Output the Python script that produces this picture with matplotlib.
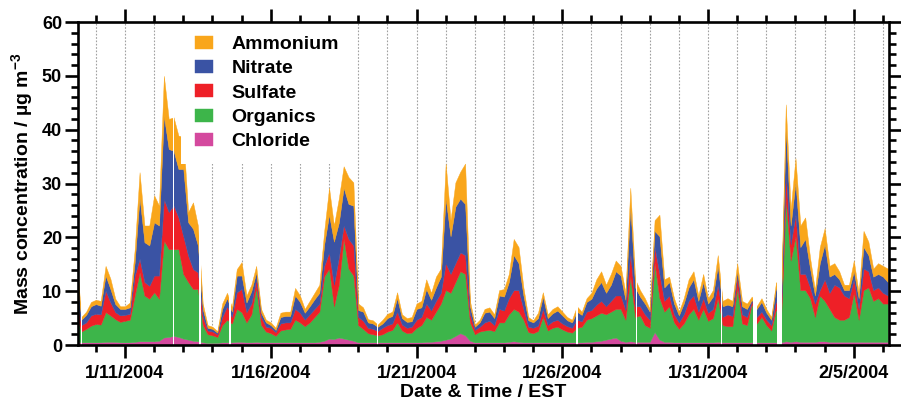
import numpy as np
import pandas as pd
import matplotlib
matplotlib.use("Agg")
import matplotlib.pyplot as plt
import matplotlib.dates as mdates
from matplotlib.ticker import FixedLocator

plt.rcParams['font.family'] = ['Liberation Sans', 'DejaVu Sans']
plt.rcParams['font.weight'] = 'bold'
plt.rcParams['mathtext.fontset'] = 'custom'
plt.rcParams['mathtext.rm'] = 'Liberation Sans:bold'
plt.rcParams['mathtext.default'] = 'rm'

# 4-hourly data, 1/9/2004 08:00 .. 2/6/2004 04:00 (ug m-3)
start, stop = "2004-01-09 08:00", "2004-02-06 04:00"

ammonium = [
    2.5, 0.5, 0.6, 0.8,                # 1/9
    0.8, 0.9, 1.8, 1.9, 1.0, 0.5,      # 1/10
    0.5, 0.9, 2.4, 4.7, 3.1, 3.7,      # 1/11
    5.0, 3.7, 7.4, 5.6, 6.2, 6.2,      # 1/12
    6.0, 1.9, 4.9, 3.7, 1.0, 0.5,      # 1/13
    0.4, 0.3, 1.0, 1.0, 0.8, 1.2,      # 1/14
    2.5, 1.3, 1.2, 1.2, 0.7, 0.5,      # 1/15
    0.5, 0.4, 0.8, 0.8, 0.8, 1.4,      # 1/16
    1.2, 0.7, 1.0, 1.2, 1.5, 2.5,      # 1/17
    5.0, 3.0, 4.5, 4.0, 5.0, 4.3,      # 1/18
    1.2, 0.8, 0.6, 0.6, 0.4, 0.7,      # 1/19
    0.8, 0.8, 1.1, 0.7, 0.7, 0.8,      # 1/20
    1.0, 1.2, 1.8, 1.3, 2.0, 1.5,      # 1/21
    6.5, 3.0, 4.5, 5.0, 7.5, 1.0,      # 1/22
    0.4, 0.5, 0.7, 0.8, 0.7, 1.0,      # 1/23
    1.4, 1.5, 3.0, 3.0, 1.5, 0.6,      # 1/24
    0.4, 1.0, 0.8, 0.7, 0.8, 0.8,      # 1/25
    0.7, 0.6, 0.5, 1.0, 0.6, 0.7,      # 1/26
    1.1, 1.7, 2.0, 1.5, 2.0, 2.0,      # 1/27
    1.8, 1.3, 3.5, 1.5, 1.2, 1.0,      # 1/28
    0.5, 2.0, 4.0, 1.5, 1.0, 1.0,      # 1/29
    0.7, 1.0, 1.5, 1.5, 1.0, 1.5,      # 1/30
    1.0, 1.2, 2.0, 1.0, 1.2, 1.0,      # 1/31
    1.5, 1.0, 1.0, 0.6, 0.5, 0.7,      # 2/1
    0.7, 0.5, 1.0, 1.0, 4.5, 3.0,      # 2/2
    4.5, 4.0, 4.0, 2.0, 1.0, 3.0,      # 2/3
    3.0, 2.0, 2.0, 1.5, 1.0, 1.0,      # 2/4
    2.0, 1.0, 3.0, 2.5, 1.5, 2.0,      # 2/5
    2.0, 2.5,                          # 2/6
]
nitrate = [
    5.5, 1.0, 1.4, 1.7,
    1.8, 1.6, 2.8, 2.5, 1.5, 1.2,
    1.1, 1.2, 2.5, 11.4, 7.4, 7.5,
    9.9, 9.3, 15.5, 11.7, 10.2, 9.0,
    12.5, 6.2, 7.5, 5.0, 1.5, 0.5,
    0.5, 0.3, 1.5, 1.5, 1.0, 3.1,
    2.5, 1.8, 2.3, 1.3, 0.8, 0.8,
    0.5, 0.4, 1.2, 1.2, 1.2, 2.5,
    2.0, 1.3, 1.5, 1.8, 2.0, 4.0,
    7.0, 8.0, 6.5, 7.0, 6.5, 7.4,
    1.3, 1.7, 1.0, 1.0, 0.8, 0.8,
    1.3, 1.4, 2.5, 1.2, 1.1, 1.0,
    2.0, 1.8, 2.7, 2.0, 2.5, 3.0,
    12.0, 7.0, 10.5, 10.0, 9.5, 1.5,
    0.6, 0.8, 1.8, 1.7, 1.3, 2.5,
    2.6, 3.0, 6.5, 5.0, 2.5, 1.2,
    1.0, 1.4, 2.3, 1.3, 1.5, 1.7,
    1.5, 1.1, 1.0, 1.5, 1.2, 1.8,
    2.1, 3.0, 3.5, 2.5, 3.0, 4.5,
    3.7, 1.9, 8.5, 3.5, 1.8, 2.0,
    1.5, 3.0, 7.0, 2.5, 2.5, 2.0,
    1.3, 2.0, 2.5, 3.0, 2.0, 3.0,
    1.7, 2.3, 3.5, 2.0, 1.8, 1.8,
    1.0, 1.5, 1.5, 0.2, 1.5, 1.8,
    1.3, 1.0, 2.5, 1.5, 8.5, 3.5,
    6.0, 5.0, 6.5, 3.5, 1.5, 5.0,
    6.5, 3.0, 2.0, 1.5, 1.0, 1.5,
    1.5, 2.0, 4.0, 3.0, 2.5, 2.5,
    3.0, 2.5,
]
sulfate = [
    3.1, 1.2, 1.2, 1.9,
    1.9, 1.9, 4.0, 2.4, 1.3, 1.2,
    1.1, 1.1, 3.7, 2.5, 2.5, 2.4,
    3.1, 4.3, 7.7, 6.9, 8.1, 5.9,
    7.0, 4.9, 3.7, 3.1, 1.5, 0.7,
    0.7, 0.5, 1.5, 2.5, 1.2, 3.1,
    4.3, 1.9, 2.0, 1.5, 1.5, 0.9,
    1.0, 0.7, 1.3, 1.3, 1.2, 2.0,
    1.8, 1.2, 1.5, 1.5, 1.5, 2.0,
    3.0, 4.0, 5.0, 2.5, 5.5, 5.6,
    1.5, 1.5, 1.0, 1.0, 0.8, 1.2,
    1.2, 1.2, 2.0, 1.1, 1.0, 1.1,
    1.5, 1.5, 2.5, 1.7, 2.0, 2.0,
    5.0, 3.5, 3.5, 3.5, 3.5, 1.5,
    0.8, 0.9, 1.5, 1.7, 1.1, 2.5,
    2.2, 3.0, 3.5, 4.0, 2.0, 1.0,
    1.0, 1.0, 1.5, 1.0, 1.2, 1.3,
    1.1, 1.0, 0.9, 1.5, 1.0, 1.5,
    1.5, 2.0, 2.2, 1.5, 2.0, 2.5,
    2.5, 1.8, 4.5, 2.0, 1.7, 2.0,
    1.5, 3.0, 4.5, 2.0, 2.0, 1.5,
    1.2, 1.7, 2.5, 2.5, 1.5, 2.0,
    1.5, 1.7, 2.5, 1.5, 2.2, 1.9,
    2.0, 1.7, 1.5, 0.5, 1.2, 1.0,
    1.0, 1.0, 1.5, 1.5, 4.5, 3.0,
    4.0, 3.0, 3.0, 2.0, 2.5, 1.0,
    4.0, 3.0, 6.0, 6.0, 4.5, 3.5,
    2.5, 2.0, 4.0, 3.0, 2.0, 2.0,
    2.0, 1.5,
]
organics = [
    4.8, 2.0, 2.5, 3.1,
    3.4, 3.3, 5.5, 4.9, 4.2, 3.8,
    4.0, 4.2, 8.6, 12.8, 8.5, 7.9,
    9.1, 7.8, 18.0, 16.3, 16.1, 16.3,
    12.0, 10.7, 9.6, 9.7, 3.2, 1.6,
    1.4, 1.1, 3.2, 4.2, 3.5, 6.1,
    5.5, 3.7, 5.2, 10.1, 3.2, 2.0,
    1.7, 1.2, 2.2, 2.4, 2.5, 4.2,
    3.7, 3.0, 3.7, 4.7, 5.6, 11.9,
    13.0, 6.1, 9.8, 18.5, 13.2, 12.1,
    3.2, 2.5, 1.7, 1.5, 1.3, 1.5,
    2.0, 2.3, 3.7, 2.2, 1.7, 1.8,
    2.7, 3.2, 4.6, 4.1, 5.5, 6.9,
    9.2, 8.5, 10.0, 11.5, 11.4, 3.4,
    1.5, 2.0, 2.2, 2.3, 2.1, 3.7,
    3.7, 5.1, 6.0, 5.6, 4.2, 1.9,
    1.7, 2.1, 4.7, 2.2, 2.7, 2.9,
    2.4, 2.0, 1.8, 2.7, 2.9, 4.1,
    4.4, 4.8, 5.2, 4.7, 5.0, 5.3,
    5.9, 4.1, 12.0, 4.6, 4.9, 3.1,
    2.6, 12.8, 7.7, 5.6, 6.6, 3.7,
    2.5, 3.5, 5.2, 6.2, 4.2, 6.2,
    4.0, 4.5, 8.1, 3.2, 3.0, 3.0,
    10.2, 3.5, 3.2, 7.2, 3.5, 4.7,
    3.2, 2.2, 6.2, 3.7, 26.5, 15.1,
    19.5, 9.6, 9.6, 8.1, 4.6, 8.5,
    7.5, 6.1, 4.6, 4.1, 4.1, 4.6,
    9.1, 4.1, 9.6, 10.1, 7.6, 8.1,
    7.1, 7.1,
]
chloride = [
    0.7, 0.5, 0.5, 0.5,
    0.5, 0.5, 0.6, 0.6, 0.6, 0.5,
    0.5, 0.5, 0.6, 0.7, 0.7, 0.7,
    0.7, 0.8, 1.4, 1.5, 1.7, 1.5,
    1.2, 1.0, 0.8, 0.7, 0.5, 0.4,
    0.4, 0.4, 0.5, 0.5, 0.5, 0.6,
    0.6, 0.5, 0.5, 0.6, 0.5, 0.5,
    0.5, 0.5, 0.5, 0.5, 0.5, 0.5,
    0.5, 0.5, 0.5, 0.5, 0.6, 0.8,
    1.2, 1.1, 1.4, 1.2, 1.0, 0.8,
    0.5, 0.5, 0.5, 0.5, 0.5, 0.5,
    0.5, 0.5, 0.5, 0.5, 0.5, 0.5,
    0.5, 0.5, 0.6, 0.6, 0.7, 0.8,
    1.0, 1.2, 1.7, 2.2, 1.8, 0.8,
    0.5, 0.5, 0.5, 0.5, 0.5, 0.5,
    0.5, 0.6, 0.7, 0.6, 0.5, 0.5,
    0.5, 0.5, 0.5, 0.5, 0.5, 0.5,
    0.5, 0.5, 0.5, 0.5, 0.5, 0.6,
    0.6, 0.7, 0.8, 1.0, 1.2, 1.4,
    0.8, 0.6, 0.7, 0.6, 0.6, 0.6,
    0.6, 2.4, 1.0, 0.6, 0.6, 0.5,
    0.5, 0.5, 0.5, 0.5, 0.5, 0.5,
    0.5, 0.5, 0.6, 0.5, 0.5, 0.5,
    0.5, 0.5, 0.5, 0.5, 0.5, 0.5,
    0.5, 0.5, 0.5, 0.5, 0.7, 0.6,
    0.7, 0.6, 0.6, 0.6, 0.6, 0.7,
    0.7, 0.6, 0.6, 0.6, 0.6, 0.6,
    0.6, 0.6, 0.6, 0.6, 0.6, 0.6,
    0.6, 0.6,
]

# missing-data periods (white gaps)
gaps = [
    ("2004-01-09 11:50", "2004-01-09 12:50"),
    ("2004-01-12 15:40", "2004-01-12 16:40"),
    ("2004-01-13 13:20", "2004-01-13 14:20"),
    ("2004-01-14 13:20", "2004-01-14 15:30"),
    ("2004-01-19 15:50", "2004-01-19 16:40"),
    ("2004-01-26 11:40", "2004-01-26 12:40"),
    ("2004-01-28 12:50", "2004-01-28 13:50"),
    ("2004-01-31 10:50", "2004-01-31 11:40"),
    ("2004-02-01 13:00", "2004-02-01 16:20"),
    ("2004-02-02 08:50", "2004-02-02 13:00"),
]

major_days = ["2004-01-11", "2004-01-16", "2004-01-21",
              "2004-01-26", "2004-01-31", "2004-02-05"]

names = ["Chloride", "Organics", "Sulfate", "Nitrate", "Ammonium"]
colors = ["#D4499E", "#3DB54A", "#EE2027", "#3A53A4", "#F9A61B"]

t = pd.date_range(start, stop, freq="4h")

fig = plt.figure(figsize=(9.01, 4.04), dpi=100)
ax = fig.add_axes([0.0866, 0.146, 0.9001, 0.7995])

polys = ax.stackplot(t, chloride, organics, sulfate, nitrate, ammonium,
                     colors=colors, labels=names, edgecolor="face", linewidth=0.3)

for g0, g1 in gaps:
    ax.axvspan(pd.Timestamp(g0), pd.Timestamp(g1), color="white", lw=0, zorder=1.5)

ax.set_xlim(pd.Timestamp("2004-01-09 09:20"), pd.Timestamp("2004-02-06 05:00"))
ax.set_ylim(0, 60)

ax.xaxis.set_major_locator(FixedLocator(mdates.date2num(pd.to_datetime(major_days))))
ax.xaxis.set_minor_locator(mdates.DayLocator())
ax.xaxis.set_major_formatter(plt.FuncFormatter(
    lambda v, p: "{d.month}/{d.day}/{d.year}".format(d=mdates.num2date(v))))
ax.yaxis.set_major_locator(plt.MultipleLocator(10))
ax.yaxis.set_minor_locator(plt.MultipleLocator(2))

ax.set_axisbelow(True)
ax.xaxis.grid(True, which="both", linestyle=(0, (1.5, 1.5)), color="#a0a0a0", lw=0.8)

for s in ax.spines.values():
    s.set_linewidth(1.9)
ax.tick_params(which="both", direction="out", top=True, right=True, width=1.9,
               labelsize=13)
ax.tick_params(which="major", length=9.5)
ax.tick_params(which="minor", length=5)
ax.tick_params(axis="x", pad=5)
ax.tick_params(axis="y", pad=2)

ax.set_xlabel("Date & Time / EST", fontsize=14, fontweight="bold", labelpad=1)
ax.set_ylabel(r"Mass concentration / µg m$^{-3}$", fontsize=14, fontweight="bold", labelpad=5)

h, l = ax.get_legend_handles_labels()
leg = ax.legend(h[::-1], l[::-1], loc="upper left", bbox_to_anchor=(0.127, 1.0),
                borderaxespad=0, frameon=True, fancybox=False, borderpad=0.7,
                handlelength=0.95, handleheight=0.65, handletextpad=0.95,
                labelspacing=0.36, prop={"size": 14, "weight": "bold"})
leg.get_frame().set_edgecolor("none")
leg.get_frame().set_facecolor("white")
leg.get_frame().set_alpha(1)
leg.set_zorder(2.2)

fig.savefig("out.png", dpi=100)
